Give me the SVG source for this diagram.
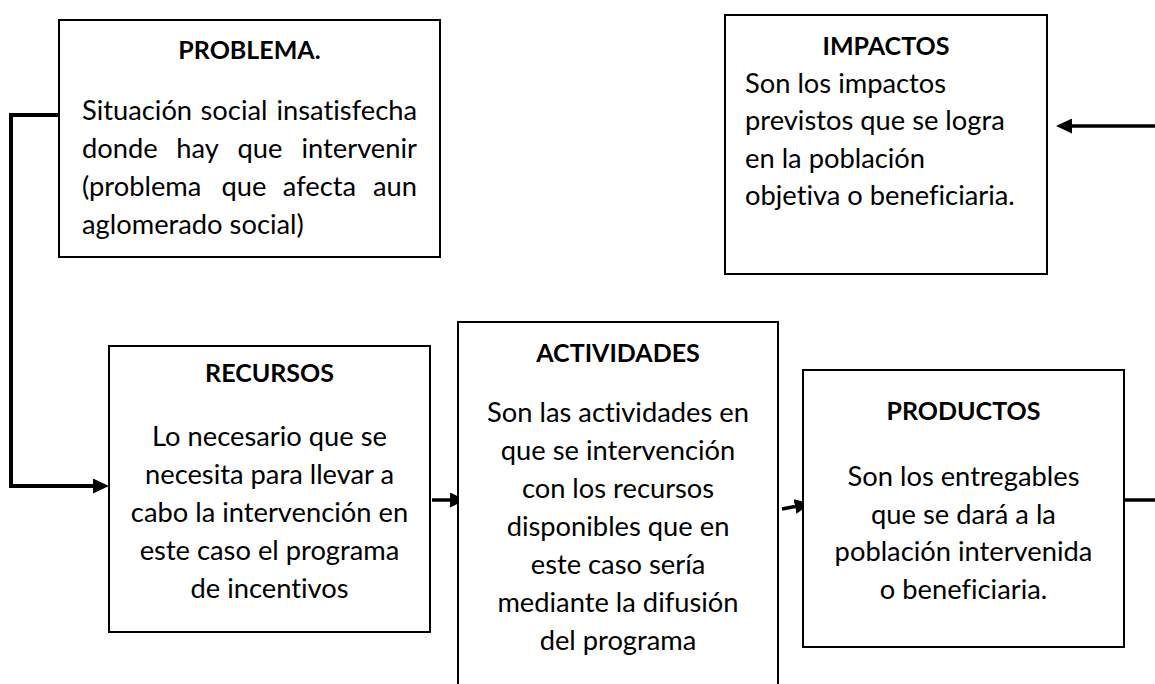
<svg xmlns="http://www.w3.org/2000/svg" width="1155" height="684" viewBox="0 0 1155 684">
<style>
.box{fill:#fff;stroke:#000;stroke-width:2}
.t{font-family:Lato,"Open Sans","Liberation Sans",sans-serif;font-size:27.3px;fill:#000;font-variant-ligatures:none;font-feature-settings:"liga" 0,"dlig" 0}
.h{font-weight:bold;text-anchor:middle;font-size:25px}
.c{text-anchor:middle}
.m{text-anchor:middle}
.e{text-anchor:end}
.con{fill:none;stroke:#000;stroke-width:3.5;stroke-linejoin:miter}
</style>
<defs>
<marker id="ah" markerUnits="userSpaceOnUse" markerWidth="16" markerHeight="15" refX="0" refY="7.5" orient="auto">
<path d="M0,0 L16,7.5 L0,15 z" fill="#000"/>
</marker>
</defs>
<rect width="1155" height="684" fill="#fff"/>
<g id="connectors">
<path class="con" style="stroke-width:4" d="M59,115 H11 V486 H93" marker-end="url(#ah)"/>
<path class="con" d="M432,500 H450" marker-end="url(#ah)"/>
<path class="con" d="M782,509 L795,506.5" marker-end="url(#ah)"/>
<path class="con" d="M1124,500 H1175 V126 H1072" marker-end="url(#ah)"/>
</g>
<g id="problema">
<rect class="box" x="59" y="20" width="381" height="237"/>
<text class="t h" x="249.5" y="59">PROBLEMA.</text>
<text class="t" x="82" y="120">Situación</text>
<text class="t m" x="234" y="120">social</text>
<text class="t e" x="417" y="120">insatisfecha</text>
<text class="t" x="82" y="158">donde</text>
<text class="t m" x="197.5" y="158">hay</text>
<text class="t m" x="260" y="158">que</text>
<text class="t e" x="417" y="158">intervenir</text>
<text class="t" x="82" y="196">(problema</text>
<text class="t m" x="244" y="196">que</text>
<text class="t m" x="319.5" y="196">afecta</text>
<text class="t e" x="417" y="196">aun</text>
<text class="t" x="82" y="234">aglomerado social)</text>
</g>
<g id="impactos">
<rect class="box" x="725" y="15" width="322" height="259"/>
<text class="t h" x="886" y="55">IMPACTOS</text>
<text class="t" x="745" y="93">Son los impactos</text>
<text class="t" x="745" y="130">previstos que se logra</text>
<text class="t" x="745" y="168">en la población</text>
<text class="t" x="745" y="205">objetiva o beneficiaria.</text>
</g>
<g id="recursos">
<rect class="box" x="109" y="346" width="321" height="286"/>
<text class="t h" x="269.5" y="382">RECURSOS</text>
<text class="t c" x="269.5" y="446">Lo necesario que se</text>
<text class="t c" x="269.5" y="484">necesita para llevar a</text>
<text class="t c" x="269.5" y="522">cabo la intervención en</text>
<text class="t c" x="269.5" y="560">este caso el programa</text>
<text class="t c" x="269.5" y="598">de incentivos</text>
</g>
<g id="actividades">
<rect class="box" x="458" y="322" width="320" height="400"/>
<text class="t h" x="618" y="362">ACTIVIDADES</text>
<text class="t c" x="618" y="422">Son las actividades en</text>
<text class="t c" x="618" y="460">que se intervención</text>
<text class="t c" x="618" y="498">con los recursos</text>
<text class="t c" x="618" y="536">disponibles que en</text>
<text class="t c" x="618" y="574">este caso sería</text>
<text class="t c" x="618" y="612">mediante la difusión</text>
<text class="t c" x="618" y="650">del programa</text>
</g>
<g id="productos">
<rect class="box" x="803" y="370" width="321" height="277"/>
<text class="t h" x="963.5" y="420">PRODUCTOS</text>
<text class="t c" x="963.5" y="486">Son los entregables</text>
<text class="t c" x="963.5" y="524">que se dará a la</text>
<text class="t c" x="963.5" y="561">población intervenida</text>
<text class="t c" x="963.5" y="599">o beneficiaria.</text>
</g>
</svg>
